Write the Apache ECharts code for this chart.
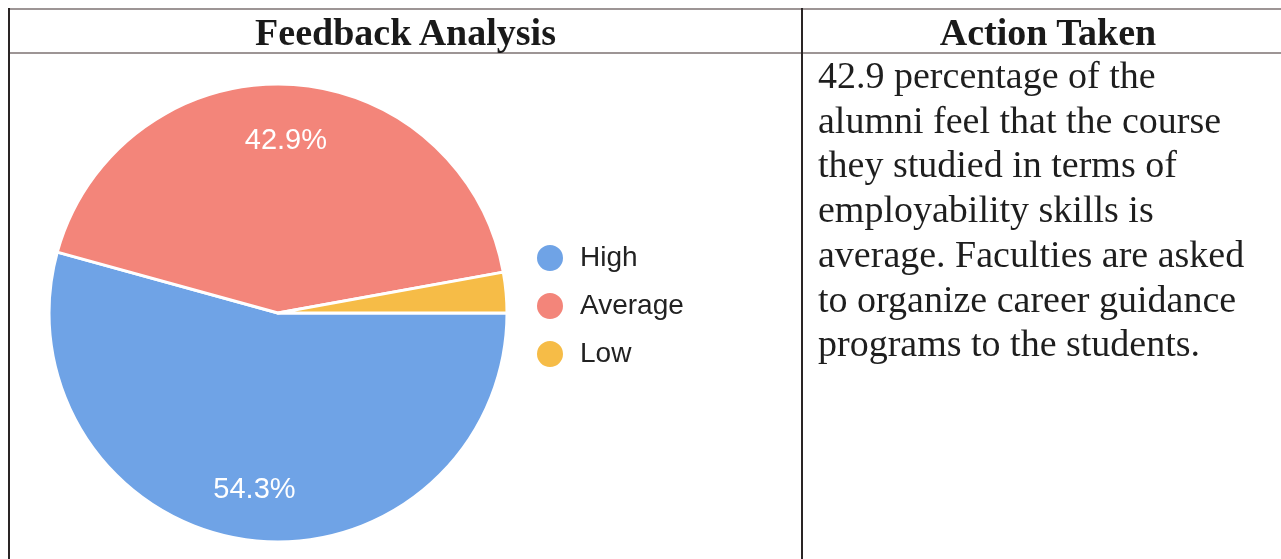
<!DOCTYPE html>
<html>
<head>
<meta charset="utf-8">
<script src="https://cdn.jsdelivr.net/npm/echarts@6/dist/echarts.min.js"></script>
<style>
  html, body { margin: 0; padding: 0; background: #fff; }
  #wrap { position: relative; width: 1281px; height: 559px; overflow: hidden; }
  #chart { position: absolute; left: 0; top: 0; width: 1281px; height: 559px; }
  .hline { position: absolute; height: 2px; background: #9d9595; }
  .vline { position: absolute; width: 2px; background: #2a2525; }
  .head { position: absolute; top: 10px; height: 42px; line-height: 44px; text-align: center;
          font-family: 'Liberation Serif', 'Times New Roman', serif; font-weight: bold; font-size: 38px; color: #1a1a1a; }
  #action { position: absolute; left: 818px; top: 53px; width: 470px; white-space: nowrap;
            font-family: 'Liberation Serif', 'Times New Roman', serif; font-size: 38px; line-height: 44.7px; color: #1e1e1e; }
</style>
</head>
<body>
<div id="wrap">
  <div id="chart"></div>
  <div class="hline" style="left:8px; top:8px; width:1290px;"></div>
  <div class="hline" style="left:8px; top:52px; width:1290px;"></div>
  <div class="vline" style="left:8px; top:8px; height:560px;"></div>
  <div class="vline" style="left:801px; top:8px; height:560px;"></div>
  <div class="head" style="left:10px; width:791px;">Feedback Analysis</div>
  <div class="head" style="left:803px; width:490px;">Action Taken</div>
  <div id="action">42.9 percentage of the<br>alumni feel that the course<br>they studied in terms of<br>employability skills is<br>average. Faculties are asked<br>to organize career guidance<br>programs to the students.</div>
</div>
<script>
  // feedback responses (count of alumni per rating)
  var categories = ['High', 'Average', 'Low']
  var responses = [19, 15, 1]
  var palette = ['#6fa3e6', '#f3857a', '#f6bc47']

  var chart = echarts.init(document.getElementById('chart'))

  var pieData = categories.map(function (name, i) {
    return { name: name, value: responses[i] }
  })

  chart.setOption({
    animation: false,
    color: palette,
    legend: {
      orient: 'vertical',
      left: 530,
      top: 238,
      itemWidth: 28,
      itemHeight: 28,
      itemGap: 18,
      icon: 'circle',
      data: categories,
      textStyle: {
        fontFamily: 'Liberation Sans, Arial, sans-serif',
        fontSize: 28,
        lineHeight: 26,
        color: '#222',
        padding: [0, 0, 0, 11]
      }
    },
    series: [{
      type: 'pie',
      center: [278, 313],
      radius: [0, 229],
      startAngle: 0,
      clockwise: true,
      silent: true,
      label: { show: false },
      labelLine: { show: false },
      itemStyle: { borderColor: '#fff', borderWidth: 3 },
      data: pieData
    },
    {
      // transparent ring only used to place the percentage labels
      type: 'pie',
      center: [278, 316],
      radius: [116, 229],
      startAngle: 0,
      clockwise: true,
      silent: true,
      minShowLabelAngle: 15,
      itemStyle: { color: 'rgba(0,0,0,0)' },
      label: {
        show: true,
        position: 'inside',
        formatter: function (p) {
          return p.percent.toFixed(1) + '%'
        },
        fontFamily: 'Liberation Sans, Arial, sans-serif',
        fontSize: 29,
        color: '#fff'
      },
      labelLine: { show: false },
      data: pieData
    }]
  })
</script>
</body>
</html>
